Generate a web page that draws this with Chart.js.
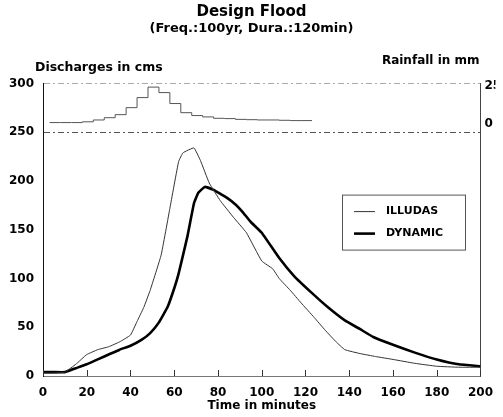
<!DOCTYPE html>
<html>
<head>
<meta charset="utf-8">
<script src="https://cdn.jsdelivr.net/npm/chart.js@4.4.1/dist/chart.umd.min.js"></script>
<style>
  html, body { margin: 0; padding: 0; background: #fff; }
  #wrap { width: 503px; height: 417px; }
</style>
</head>
<body>
<div id="wrap"><canvas id="floodChart" width="503" height="417"></canvas></div>
<script>
// discharge hydrographs (time in minutes, flow in cms)
const illudasTime = [0, 5, 10, 15, 20, 25, 30, 35, 40, 43, 46, 49, 54, 58, 62, 64, 69, 72, 76, 81, 87, 93, 100, 105, 108, 113, 118, 124, 129, 134, 138, 145, 152, 160, 170, 180, 190, 200];
const illudasFlow = [3, 3, 4, 12, 22, 27, 30, 35, 42, 56, 70, 88, 124, 172, 220, 229, 234, 221, 198, 180, 163, 147, 118, 110, 100, 88, 75, 60, 47, 35, 27, 23, 20, 17, 13, 10, 9, 9];

const dynamicTime = [0, 5, 10, 15, 20, 25, 30, 35, 40, 45, 49, 53, 57, 60, 62, 66, 69, 71, 74, 78, 81, 84, 88, 91, 95, 100, 108, 115, 123, 130, 138, 145, 151, 160, 170, 180, 190, 200];
const dynamicFlow = [4, 4, 4, 8, 12, 17, 22, 27, 31, 37, 44, 55, 71, 90, 105, 143, 177, 188, 194, 191, 187, 183, 176, 169, 158, 147, 121, 102, 85, 71, 57, 48, 40, 32, 24, 17, 12, 10];

// hyetograph, 5 minute blocks (start time, depth in mm)
const rainTime = [3, 8, 13, 18, 23, 28, 33, 38, 43, 48, 53, 58, 63, 68, 73, 78, 83, 88, 93, 98, 103, 108, 113, 118, 123];
const rainDepth = [0.7, 0.7, 0.7, 0.7, 1.2, 2.4, 3.9, 5.9, 10.5, 17.1, 24.0, 20.4, 13.2, 7.2, 5.3, 4.4, 3.5, 3.3, 2.8, 2.6, 2.4, 2.4, 2.2, 2.0, 2.0];

const flowTicks = [0, 50, 100, 150, 200, 250, 300];
const rainTicks = [0, 25];
const timeTicks = [0, 20, 40, 60, 80, 100, 120, 140, 160, 180, 200];

const FONT = "'DejaVu Sans', sans-serif";

function pairs(xs, ys) {
  return xs.map((x, i) => ({ x: x, y: ys[i] }));
}

// axis unit labels, legend box and inward x ticks
const decorations = {
  id: "decorations",
  afterDraw(chart) {
    const ctx = chart.ctx;
    const area = chart.chartArea;
    const xScale = chart.scales.x;
    ctx.save();
    ctx.fillStyle = "#000";
    ctx.textBaseline = "middle";
    ctx.font = "bold 12.5px " + FONT;
    ctx.textAlign = "left";
    ctx.fillText("Discharges in cms", area.left - 8, area.top - 16);
    ctx.font = "bold 12px " + FONT;
    ctx.textAlign = "right";
    ctx.fillText("Rainfall in mm", area.right - 1, area.top - 23);

    // small ticks pointing up from the time axis
    ctx.strokeStyle = "#333";
    ctx.lineWidth = 1;
    xScale.ticks.forEach((t) => {
      const px = Math.round(xScale.getPixelForValue(t.value)) + 0.5;
      ctx.beginPath();
      ctx.moveTo(px, area.bottom);
      ctx.lineTo(px, area.bottom - 6);
      ctx.stroke();
    });

    // legend box
    const bx = area.left + 299, by = area.top + 111, bw = 123, bh = 55;
    ctx.strokeStyle = "#555";
    ctx.strokeRect(bx + 0.5, by + 0.5, bw, bh);
    ctx.font = "bold 11px " + FONT;
    ctx.textAlign = "left";
    [0, 1].forEach((i) => {
      const ds = chart.data.datasets[i];
      const y = by + 17 + i * 22;
      ctx.strokeStyle = ds.borderColor;
      ctx.lineWidth = ds.borderWidth;
      ctx.beginPath();
      ctx.moveTo(bx + 12, y);
      ctx.lineTo(bx + 33, y);
      ctx.stroke();
      ctx.fillText(ds.label, bx + 44, y);
    });
    ctx.restore();
  },
};

new Chart(document.getElementById("floodChart").getContext("2d"), {
  type: "line",
  plugins: [decorations],
  data: {
    datasets: [
      {
        label: "ILLUDAS",
        data: pairs(illudasTime, illudasFlow),
        borderColor: "#333",
        borderWidth: 1,
        pointRadius: 0,
        tension: 0.1,
        yAxisID: "y",
      },
      {
        label: "DYNAMIC",
        data: pairs(dynamicTime, dynamicFlow),
        borderColor: "#000",
        borderWidth: 2.6,
        pointRadius: 0,
        tension: 0.1,
        yAxisID: "y",
      },
      {
        label: "Rainfall",
        data: pairs(rainTime, rainDepth),
        borderColor: "#555",
        borderWidth: 1,
        pointRadius: 0,
        stepped: "after",
        yAxisID: "rain",
      },
    ],
  },
  options: {
    responsive: false,
    animation: false,
    layout: { padding: 0 },
    plugins: {
      legend: { display: false },
      tooltip: { enabled: false },
      title: {
        display: true,
        text: "Design Flood",
        color: "#000",
        font: { family: FONT, size: 15, weight: "bold" },
        padding: { top: 3, bottom: 0 },
      },
      subtitle: {
        display: true,
        text: "(Freq.:100yr, Dura.:120min)",
        color: "#000",
        font: { family: FONT, size: 13, weight: "bold" },
        padding: { top: 0, bottom: 47 },
      },
    },
    scales: {
      x: {
        type: "linear",
        min: 0,
        max: 200,
        afterBuildTicks: (scale) => {
          scale.ticks = timeTicks.map((v) => ({ value: v }));
        },
        afterFit: (scale) => {
          scale.height = 41;
        },
        ticks: {
          color: "#000",
          padding: 10,
          font: { family: FONT, size: 12, weight: "bold" },
        },
        grid: { display: false, drawTicks: false },
        border: { display: true, color: "#777", width: 1 },
        title: {
          display: true,
          text: "Time in minutes",
          color: "#000",
          font: { family: FONT, size: 12, weight: "bold" },
          padding: { top: 0, bottom: 4 },
        },
      },
      y: {
        position: "left",
        min: 0,
        max: 300,
        afterBuildTicks: (scale) => {
          scale.ticks = flowTicks.map((v) => ({ value: v }));
        },
        afterFit: (scale) => {
          scale.width = 43;
        },
        ticks: {
          color: "#000",
          padding: 9,
          font: { family: FONT, size: 12, weight: "bold" },
        },
        grid: {
          drawTicks: false,
          color: (c) => (c.tick && c.tick.value === 250 ? "#555" : c.tick && c.tick.value === 300 ? "#aaa" : "rgba(0,0,0,0)"),
        },
        border: { display: true, color: "#111", width: 1, dash: [6, 3, 2, 3] },
      },
      rain: {
        position: "right",
        min: -165.8,
        max: 26.3,
        afterBuildTicks: (scale) => {
          scale.ticks = rainTicks.map((v) => ({ value: v }));
        },
        afterFit: (scale) => {
          scale.width = 15;
        },
        ticks: {
          color: "#000",
          padding: 4,
          font: { family: FONT, size: 12, weight: "bold" },
        },
        grid: { display: false, drawTicks: false },
        border: { display: true, color: "#444", width: 1 },
      },
    },
  },
});
</script>
</body>
</html>
